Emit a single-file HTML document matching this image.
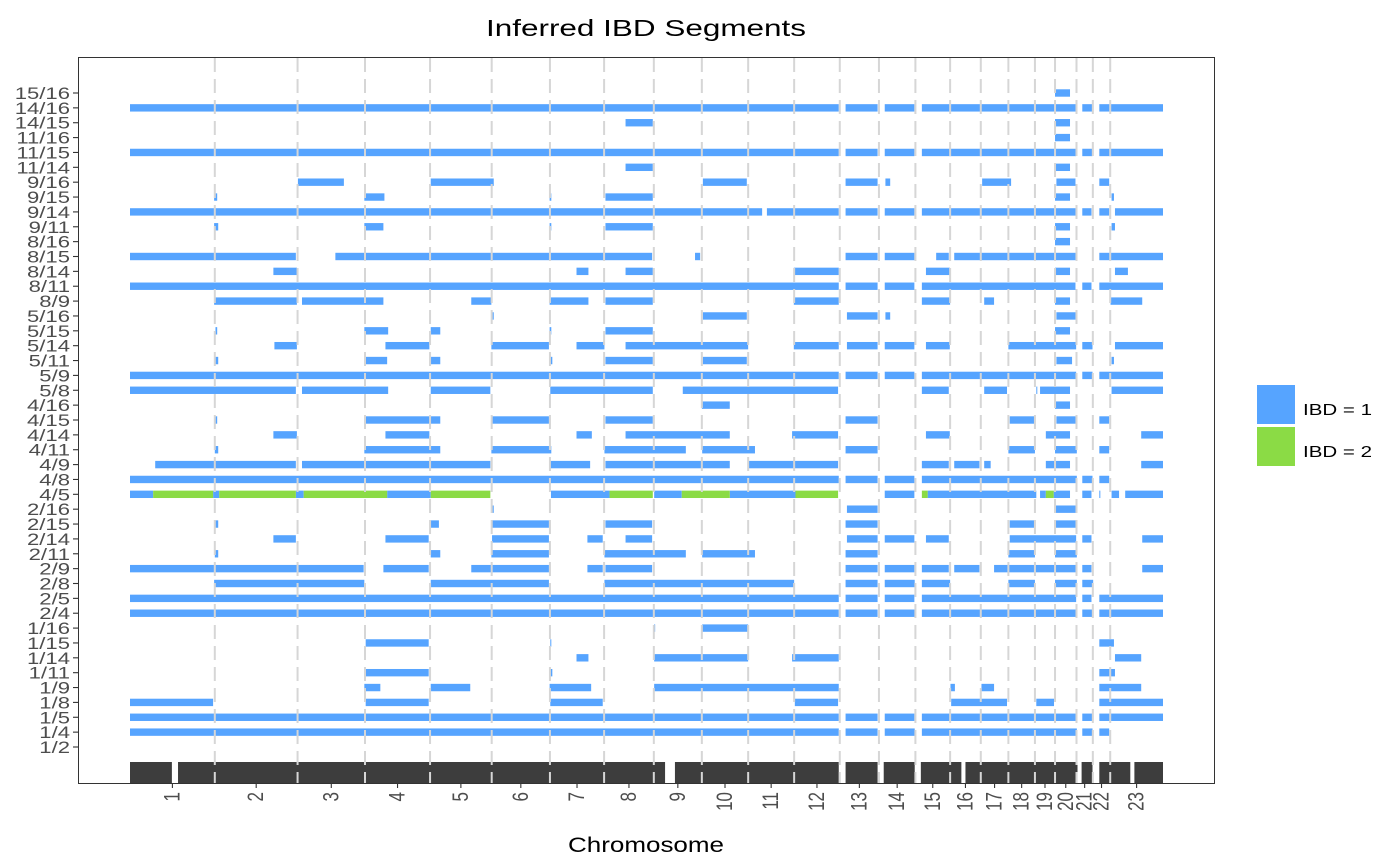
<!DOCTYPE html>
<html><head><meta charset="utf-8"><title>Inferred IBD Segments</title>
<style>
html,body{margin:0;padding:0;background:#fff;}
svg{display:block;font-family:"Liberation Sans",Arial,sans-serif;}
</style></head>
<body>
<svg id="chart" width="1400" height="865" viewBox="0 0 1400 865" xmlns="http://www.w3.org/2000/svg">
  <rect x="0" y="0" width="1400" height="865" fill="#ffffff"/>
  <text x="486" y="36" font-size="23" textLength="320" lengthAdjust="spacingAndGlyphs" fill="#000">Inferred IBD Segments</text>
  <g id="track"></g>
  <g id="bars"></g>
  <g id="grid"></g>
  <rect x="78.5" y="57.5" width="1136" height="726" fill="none" stroke="#333" stroke-width="1"/>
  <g id="yaxis"></g>
  <g id="xaxis"></g>
  <text x="568" y="852" font-size="21" textLength="156" lengthAdjust="spacingAndGlyphs" fill="#000">Chromosome</text>
  <g>
    <rect x="1257" y="385" width="38" height="39" fill="#56A4FF"/>
    <text x="1303" y="415" font-size="16" textLength="69" lengthAdjust="spacingAndGlyphs" fill="#000">IBD = 1</text>
    <rect x="1257" y="427" width="38" height="39" fill="#8BDB45"/>
    <text x="1303" y="457" font-size="16" textLength="69" lengthAdjust="spacingAndGlyphs" fill="#000">IBD = 2</text>
  </g>
</svg>
<script>
const chromLabels = ["1","2","3","4","5","6","7","8","9","10","11","12","13","14","15","16","17","18","19","20","21","22","23"];
const chromLengthsMb = [249,243,198,191,181,171,159,146,141,136,135,134,115,107,102,90,81,78,59,63,48,51,155];
const pairLabels = ["15/16","14/16","14/15","11/16","11/15","11/14","9/16","9/15","9/14","9/11","8/16","8/15","8/14","8/11","8/9","5/16","5/15","5/14","5/11","5/9","5/8","4/16","4/15","4/14","4/11","4/9","4/8","4/5","2/16","2/15","2/14","2/11","2/9","2/8","2/5","2/4","1/16","1/15","1/14","1/11","1/9","1/8","1/5","1/4","1/2"];
const coveredRegionsMb = [[0,123],[141,1571],[1600,2081],[2101,2195],[2213,2304],[2322,2441],[2453,2782],[2794,2826],[2846,2937],[2949,3033]];
const ibd1Segments = [
[0,2716,2760],
[1,0,2081],[1,2101,2195],[1,2216,2303],[1,2325,2778],[1,2796,2826],[1,2846,3033],
[2,1455,1535],[2,2716,2760],
[3,2716,2760],
[4,0,2081],[4,2101,2195],[4,2216,2303],[4,2325,2778],[4,2796,2826],[4,2846,3033],
[5,1455,1535],[5,2716,2760],
[6,493,628],[6,883,1068],[6,1682,1811],[6,2101,2195],[6,2218,2232],[6,2502,2587],[6,2720,2776],[6,2846,2875],
[7,247,256],[7,688,747],[7,1232,1237],[7,1396,1535],[7,2716,2760],[7,2882,2889],
[8,0,1856],[8,1870,2081],[8,2101,2195],[8,2216,2303],[8,2325,2776],[8,2796,2823],[8,2846,2875],[8,2892,3033],
[9,247,259],[9,688,744],[9,1232,1237],[9,1396,1535],[9,2716,2760],[9,2882,2892],
[10,2716,2760],
[11,0,487],[11,603,1533],[11,1659,1674],[11,2101,2195],[11,2216,2303],[11,2367,2404],[11,2420,2776],[11,2846,3033],
[12,421,490],[12,1311,1346],[12,1455,1535],[12,1949,2081],[12,2337,2407],[12,2716,2760],[12,2892,2930],
[13,0,2081],[13,2101,2195],[13,2216,2303],[13,2325,2776],[13,2796,2823],[13,2846,3033],
[14,247,490],[14,505,744],[14,1002,1061],[14,1232,1346],[14,1396,1535],[14,1949,2081],[14,2325,2408],[14,2508,2537],[14,2716,2760],[14,2879,2972],
[15,1063,1068],[15,1682,1811],[15,2105,2195],[15,2218,2232],[15,2720,2776],
[16,251,256],[16,688,758],[16,883,911],[16,1232,1237],[16,1396,1535],[16,2716,2760],
[17,424,490],[17,750,879],[17,1061,1230],[17,1311,1393],[17,1455,1815],[17,1949,2081],[17,2105,2195],[17,2216,2303],[17,2337,2407],[17,2579,2778],[17,2796,2826],[17,2892,3033],
[18,251,259],[18,692,755],[18,883,911],[18,1234,1240],[18,1396,1535],[18,1682,1811],[18,2720,2766],[18,2882,2889],
[19,0,2081],[19,2101,2195],[19,2216,2303],[19,2325,2778],[19,2796,2826],[19,2846,3033],
[20,0,487],[20,505,758],[20,883,1058],[20,1234,1535],[20,1623,2079],[20,2325,2404],[20,2508,2575],[20,2661,2663],[20,2672,2760],[20,2882,3033],
[21,1679,1761],[21,2716,2760],
[22,251,256],[22,692,911],[22,1063,1230],[22,1396,1535],[22,2101,2195],[22,2583,2655],[22,2720,2776],[22,2846,2875],
[23,421,490],[23,750,879],[23,1311,1356],[23,1455,1761],[23,1944,2079],[23,2337,2407],[23,2689,2760],[23,2969,3033],
[24,249,259],[24,688,911],[24,1061,1237],[24,1393,1632],[24,1680,1835],[24,2101,2195],[24,2579,2657],[24,2716,2780],[24,2846,2875],
[25,74,487],[25,505,1058],[25,1234,1351],[25,1396,1761],[25,1817,2079],[25,2325,2404],[25,2420,2494],[25,2508,2527],[25,2689,2760],[25,2969,3033],
[26,0,2081],[26,2101,2195],[26,2216,2303],[26,2325,2780],[26,2796,2826],[26,2846,2875],
[27,0,68],[27,244,262],[27,487,510],[27,755,883],[27,1236,1408],[27,1539,1620],[27,1761,1954],[27,2216,2303],[27,2342,2661],[27,2672,2689],[27,2712,2760],[27,2796,2823],[27,2846,2849],[27,2882,2904],[27,2922,3033],
[28,1061,1068],[28,2105,2195],[28,2716,2780],
[29,251,259],[29,883,907],[29,1063,1230],[29,1396,1533],[29,2101,2195],[29,2583,2655],[29,2718,2780],
[30,421,487],[30,750,877],[30,1063,1230],[30,1343,1388],[30,1455,1533],[30,2105,2195],[30,2216,2303],[30,2337,2404],[30,2583,2778],[30,2796,2823],[30,2972,3033],
[31,249,259],[31,883,911],[31,1061,1230],[31,1393,1632],[31,1680,1835],[31,2101,2195],[31,2579,2657],[31,2716,2780],
[32,0,686],[32,744,877],[32,1002,1230],[32,1343,1388],[32,1396,1533],[32,2101,2195],[32,2216,2303],[32,2325,2404],[32,2420,2494],[32,2537,2778],[32,2796,2823],[32,2972,3033],
[33,247,688],[33,883,1230],[33,1393,1950],[33,2101,2195],[33,2216,2304],[33,2325,2408],[33,2579,2657],[33,2716,2780],[33,2796,2828],
[34,0,2081],[34,2101,2195],[34,2216,2303],[34,2325,2778],[34,2796,2823],[34,2846,3033],
[35,0,2081],[35,2101,2195],[35,2216,2304],[35,2325,2780],[35,2796,2826],[35,2846,3033],
[36,1539,1541],[36,1680,1815],
[37,692,877],[37,1234,1237],[37,2846,2889],
[38,1311,1346],[38,1539,1815],[38,1944,2081],[38,2892,2969],
[39,692,877],[39,1234,1240],[39,2846,2892],
[40,688,735],[40,883,999],[40,1232,1354],[40,1539,2081],[40,2409,2422],[40,2500,2537],[40,2846,2969],
[41,0,244],[41,692,877],[41,1234,1388],[41,1952,2079],[41,2411,2575],[41,2661,2713],[41,2846,3033],
[42,0,2081],[42,2101,2195],[42,2216,2303],[42,2325,2778],[42,2796,2826],[42,2846,3033],
[43,0,2081],[43,2101,2195],[43,2216,2304],[43,2325,2780],[43,2796,2826],[43,2846,2875]
];
const ibd2Segments = [
[27,68,244],[27,262,487],[27,510,755],[27,883,1058],[27,1408,1535],[27,1620,1761],[27,1954,2079],[27,2325,2342],[27,2689,2712]
];

const NS = "http://www.w3.org/2000/svg";
const genomeTotal = chromLengthsMb.reduce((a,b)=>a+b,0);
const X0 = 130, X1 = 1163, Y0 = 93, Y1 = 747;
function xScale(mb){ return X0 + mb*(X1-X0)/genomeTotal; }
function yScale(i){ return Y0 + i*(Y1-Y0)/(pairLabels.length-1); }
function mk(tag, attrs, parent){ const e=document.createElementNS(NS,tag); for(const k in attrs) e.setAttribute(k,attrs[k]); parent.appendChild(e); return e; }

const track = document.getElementById('track');
coveredRegionsMb.forEach(r=>{
  const e = mk('rect',{x:xScale(r[0]),y:762,width:xScale(r[1])-xScale(r[0]),height:21,fill:'#3d3d3d'},track);
  
  
});

const bars = document.getElementById('bars');
const BH = 7.4;
ibd1Segments.forEach(s=>{
  const e = mk('rect',{x:xScale(s[1]),y:yScale(s[0])-BH/2,width:Math.max(1,xScale(s[2])-xScale(s[1])),height:BH,fill:'#56A4FF'},bars);
  
  
});
ibd2Segments.forEach(s=>{
  const e = mk('rect',{x:xScale(s[1]),y:yScale(s[0])-BH/2,width:Math.max(1,xScale(s[2])-xScale(s[1])),height:BH,fill:'#8BDB45'},bars);
  
  
});

const grid = document.getElementById('grid');
const xaxis = document.getElementById('xaxis');
let cum = 0;
chromLengthsMb.forEach((len,i)=>{
  const mid = cum + len/2;
  const xm = xScale(mid);
  const t = mk('line',{x1:xm,y1:783.5,x2:xm,y2:788,stroke:'#333','stroke-width':1.1},xaxis);
  
  
  const lb = mk('text',{x:0,y:0,transform:`translate(${xm+7},${792}) rotate(-90) scale(1,1.3)`,'font-size':17,'text-anchor':'end',fill:'#4d4d4d'},xaxis);
  lb.textContent = chromLabels[i];
  
  
  cum += len;
  if(i < chromLengthsMb.length-1){
    const xb = xScale(cum);
    const g = mk('line',{x1:xb,y1:58,x2:xb,y2:783,stroke:'#d6d6d6','stroke-width':2,'stroke-dasharray':'14,7'},grid);
    
    
  }
});

const yaxis = document.getElementById('yaxis');
pairLabels.forEach((lab,i)=>{
  const y = yScale(i);
  const t = mk('line',{x1:73,y1:y,x2:78,y2:y,stroke:'#333','stroke-width':1.1},yaxis);
  
  
  const tx = mk('text',{x:0,y:0,transform:`translate(70,${y+6}) scale(1.3,1)`,'font-size':17,'text-anchor':'end',fill:'#4d4d4d'},yaxis);
  tx.textContent = lab;
  
  
});
</script>
</body></html>
